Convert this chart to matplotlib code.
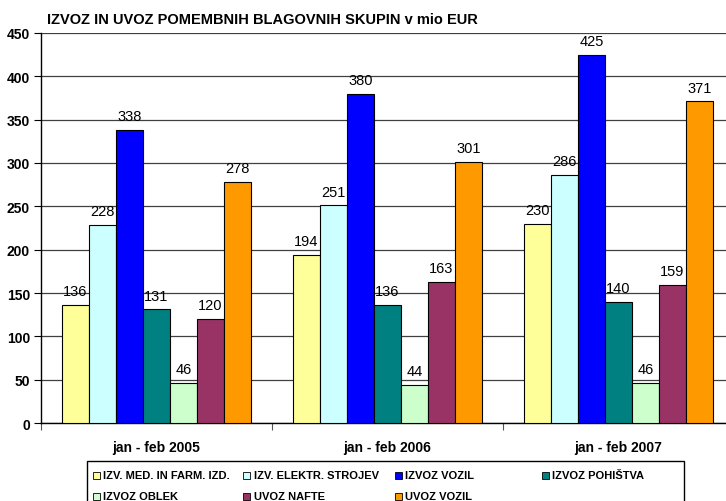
import matplotlib
matplotlib.use("Agg")
import matplotlib.pyplot as plt
from matplotlib.patches import Rectangle

plt.rcParams['font.family'] = ['Liberation Sans', 'DejaVu Sans']

title = "IZVOZ IN UVOZ POMEMBNIH BLAGOVNIH SKUPIN v mio EUR"
periods = ["jan - feb 2005", "jan - feb 2006", "jan - feb 2007"]
series = ["IZV. MED. IN FARM. IZD.", "IZV. ELEKTR. STROJEV", "IZVOZ VOZIL", "IZVOZ POHIŠTVA",
          "IZVOZ OBLEK", "UVOZ NAFTE", "UVOZ VOZIL"]
colors = ["#FFFF99", "#CCFFFF", "#0000FF", "#008080", "#CCFFCC", "#993366", "#FF9900"]
med = [136, 194, 230]
elektr = [228, 251, 286]
izvoz_vozil = [338, 380, 425]
pohistvo = [131, 136, 140]
obleke = [46, 44, 46]
nafta = [120, 163, 159]
uvoz_vozil = [278, 301, 371]
values = [med, elektr, izvoz_vozil, pohistvo, obleke, nafta, uvoz_vozil]
yticks = [0, 50, 100, 150, 200, 250, 300, 350, 400, 450]

W, H = 726, 502
fig = plt.figure(figsize=(W/100, H/100), dpi=100)
ax = fig.add_axes([41/W, 1-424/H, (734-41)/W, (424-34)/H])

bw = 27/231
gap = (1 - 7*bw)/2
for j, (vals, c) in enumerate(zip(values, colors)):
    xs = [i + gap + j*bw for i in range(3)]
    bars = ax.bar(xs, vals, width=bw, align='edge', color=c, edgecolor='black', linewidth=0.8, zorder=3)
    for b, v in zip(bars, vals):
        ax.annotate(str(v), (b.get_x()+b.get_width()/2, v), xytext=(0, 5), textcoords='offset points',
                    ha='center', va='bottom', fontsize=10.5, zorder=4)

ax.set_xlim(0, 3)
ax.set_ylim(0, 450)
ax.set_yticks(yticks)
ax.set_yticklabels([str(t) for t in yticks], fontsize=10, fontweight='bold')
ax.set_xticks([0, 1, 2, 3])
ax.set_xticklabels([])
ax.set_xticks([0.5, 1.5, 2.5], minor=True)
ax.set_xticklabels(periods, minor=True, fontsize=10, fontweight='bold')
ax.tick_params(axis='x', which='minor', length=0, pad=12)
ax.tick_params(axis='x', which='major', length=5, direction='out', color='#555555')
ax.tick_params(axis='y', length=5, direction='out', pad=3)
ax.grid(axis='y', color='#404040', linewidth=0.9, zorder=0)
ax.set_axisbelow(True)
for s in ['top', 'right']:
    ax.spines[s].set_visible(False)
ax.spines['left'].set_linewidth(1)
ax.spines['bottom'].set_linewidth(1)

fig.text(47/W, 1-20/H, title, fontsize=10.5, fontweight='bold', ha='left', va='center')

# legend
fig.patches.append(Rectangle((87/W, -0.05), (684-87)/W, (1-462/H)+0.05, transform=fig.transFigure,
                             facecolor='white', edgecolor='black', linewidth=1))
col_x = [96, 247, 398, 545]
row_y = [476, 497]
for k, (name, c) in enumerate(zip(series, colors)):
    r, col = divmod(k, 4)
    mx, my = col_x[col], row_y[r]
    fig.patches.append(Rectangle(((mx-3.5)/W, 1-(my+3.5)/H), 7/W, 7/H, transform=fig.transFigure,
                                 facecolor=c, edgecolor='black', linewidth=0.6))
    fig.text((mx+7)/W, 1-my/H, name, fontsize=8, fontweight='bold', ha='left', va='center')

fig.savefig("out.png", dpi=100)
